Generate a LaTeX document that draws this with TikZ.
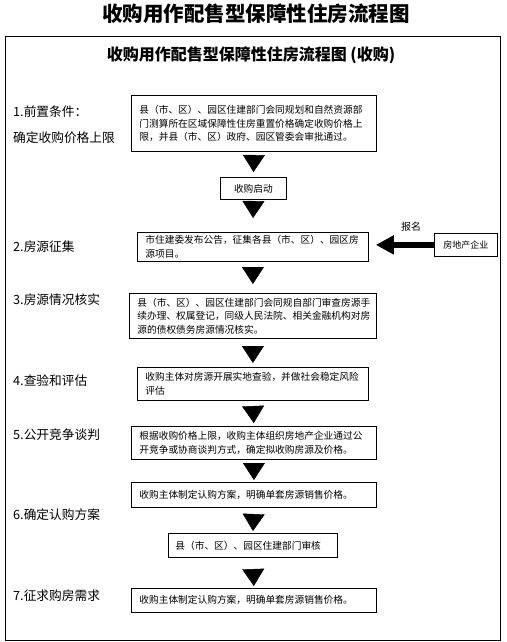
\documentclass[tikz,border=0pt]{standalone}
\usepackage{fontspec}
\setmainfont{Noto Sans CJK SC}
\usetikzlibrary{arrows.meta}

\newcommand{\boxfont}{\fontsize{9.7pt}{13.5pt}\selectfont}
\newcommand{\labelfont}{\fontsize{12.7pt}{15pt}\selectfont}

\tikzset{
  stepbox/.style={draw, line width=0.8pt, anchor=north west, inner xsep=8pt, inner ysep=3pt, align=left, font=\boxfont},
  steplabel/.style={anchor=west, inner sep=0pt, font=\labelfont},
  dnarrow/.style={draw=white, shorten <=2pt, -{Triangle[width=22pt,length=17pt,black]}}
}

\begin{document}
\begin{tikzpicture}[x=1pt,y=-1pt]
        \useasboundingbox (0,0) rectangle (506,642);
        \node[font=\fontsize{20.5pt}{24pt}\selectfont\bfseries] (title) at (256,14) {收购用作配售型保障性住房流程图};
        \draw[line width=1pt] (5,37) rectangle (500,640);
        \node[font=\fontsize{16pt}{19pt}\selectfont\bfseries] (subtitle) at (251,55) {收购用作配售型保障性住房流程图 (收购)};

        % left column
        \node[steplabel] (l1a) at (13,112) {1.前置条件：};
        \node[steplabel] (l1b) at (13,138) {确定收购价格上限};
        \node[steplabel] (l2) at (13,247) {2.房源征集};
        \node[steplabel] (l3) at (13,300) {3.房源情况核实};
        \node[steplabel] (l4) at (13,381) {4.查验和评估};
        \node[steplabel] (l5) at (13,435) {5.公开竞争谈判};
        \node[steplabel] (l6) at (13,515) {6.确定认购方案};
        \node[steplabel] (l7) at (13,596) {7.征求购房需求};

        % boxes
        \node[stepbox, text width=229pt, minimum height=56pt] (cond) at (131,95) {县（市、区）、园区住建部门会同规划和自然资源部\\门测算所在区域保障性住房重置价格确定收购价格上\\限，并县（市、区）政府、园区管委会审批通过。\\[4pt]};
        \node[stepbox, align=center, inner xsep=3pt, minimum width=66pt, minimum height=22pt] (start) at (220,177) {收购启动};
        \node[stepbox, text width=215pt, minimum height=29pt] (collect) at (137,232) {市住建委发布公告，征集各县（市、区）、园区房\\源项目。};
        \node[stepbox, text width=231pt, minimum height=45pt] (verify) at (129,293) {县（市、区）、园区住建部门会同规自部门审查房源手\\续办理、权属登记，同级人民法院、相关金融机构对房\\源的债权债务房源情况核实。};
        \node[stepbox, text width=215pt, minimum height=33pt] (inspect) at (137,367) {收购主体对房源开展实地查验，并做社会稳定风险\\评估};
        \node[stepbox, text width=229pt, minimum height=33pt] (nego) at (131,426) {根据收购价格上限，收购主体组织房地产企业通过公\\开竞争或协商谈判方式，确定拟收购房源及价格。};
        \node[stepbox, text width=229pt, minimum height=25pt] (plan) at (131,482) {收购主体制定认购方案，明确单套房源销售价格。};
        \node[stepbox, text width=155pt, inner xsep=7pt, minimum height=24pt] (audit) at (168,533) {县（市、区）、园区住建部门审核};
        \node[stepbox, text width=229pt, minimum height=24pt] (demand) at (131,588) {收购主体制定认购方案，明确单套房源销售价格。};
        \node[stepbox, align=center, inner xsep=2pt, minimum width=63pt, minimum height=23pt, font=\fontsize{9pt}{11pt}\selectfont] (firm) at (434,233) {房地产企业};

        \draw[dnarrow, shorten >=5pt] (cond.south) -- (start.north);
        \draw[dnarrow, shorten >=14pt] (start.south) -- (collect.north);
        \draw[dnarrow, shorten >=9pt] (collect.south) -- (verify.north);
        \draw[dnarrow, shorten >=4pt] (verify.south) -- (inspect.north);
        \draw[dnarrow, shorten >=3pt] (inspect.south) -- (nego.north);
        \draw[dnarrow, shorten >=2pt] (nego.south) -- (plan.north);
        \draw[dnarrow, shorten >=2pt] (plan.south) -- (audit.north);
        \draw[dnarrow, shorten >=2pt] (audit.south) -- (demand.north);
        \draw[line width=5.5pt, shorten >=7pt, -{Triangle[width=18pt,length=18pt]}] (firm.west) -- (firm.west -| collect.east) node[pos=0.35, above=7pt, font=\fontsize{10pt}{12pt}\selectfont] (signup) {报名};
    \end{tikzpicture}
\end{document}
